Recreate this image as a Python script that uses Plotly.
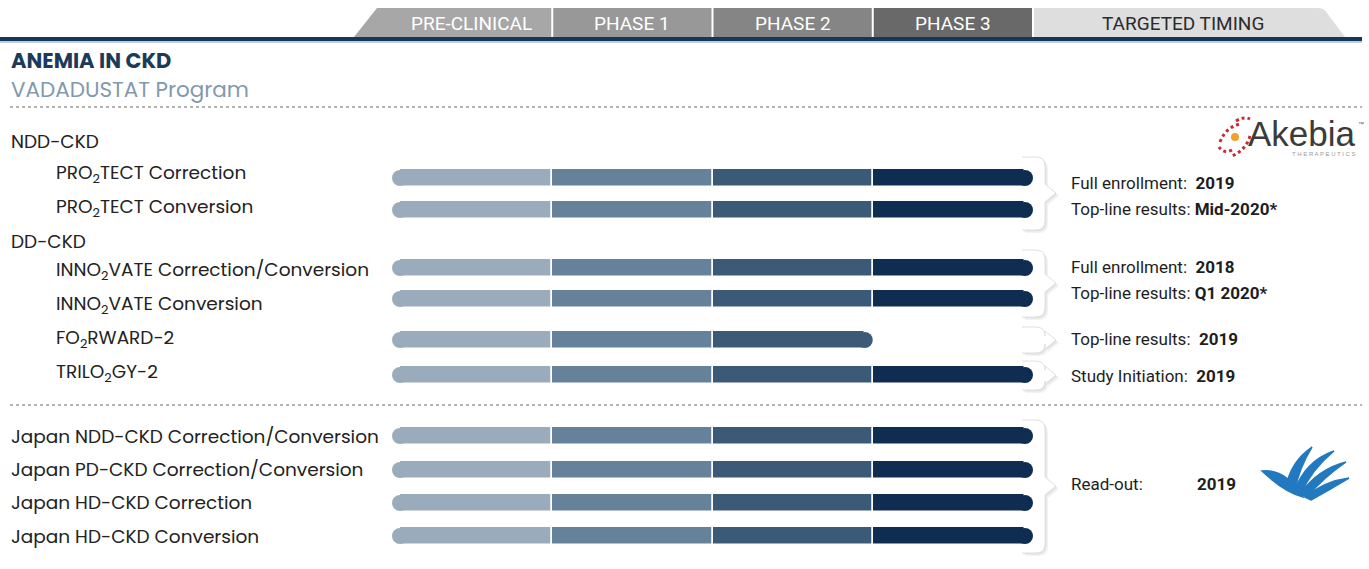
import plotly.graph_objects as go

# ---------------- data ----------------
phases = ["PRE-CLINICAL", "PHASE 1", "PHASE 2", "PHASE 3"]
header_extra = "TARGETED TIMING"
programs = [
    "PRO<sub>2</sub>TECT Correction",
    "PRO<sub>2</sub>TECT Conversion",
    "INNO<sub>2</sub>VATE Correction/Conversion",
    "INNO<sub>2</sub>VATE Conversion",
    "FO<sub>2</sub>RWARD-2",
    "TRILO<sub>2</sub>GY-2",
    "Japan NDD-CKD Correction/Conversion",
    "Japan PD-CKD Correction/Conversion",
    "Japan HD-CKD Correction",
    "Japan HD-CKD Conversion",
]
phases_reached = [4, 4, 4, 4, 3, 4, 4, 4, 4, 4]   # number of phase segments filled
groups = ["NDD-CKD", "DD-CKD"]
title = "ANEMIA IN CKD"
subtitle = "VADADUSTAT Program"
timing_notes = [
    ["Full enrollment:  <b>2019</b>", "Top-line results: <b>Mid-2020*</b>"],
    ["Full enrollment:  <b>2018</b>", "Top-line results: <b>Q1 2020*</b>"],
    ["Top-line results:  <b>2019</b>"],
    ["Study Initiation:  <b>2019</b>"],
]
readout_label = "Read-out:"
readout_value = "<b>2019</b>"

# ---------------- layout / style ----------------
W, H = 1369, 569
ROW_Y = [178, 210, 268, 299, 340, 375, 436, 470, 503, 536]
LABEL_Y = [174, 208, 271, 305, 339, 373, 436, 469, 502, 536]
INDENT = [True] * 6 + [False] * 4
GROUP_Y = [141, 241]
PH_COLORS = ["#9aacbc", "#66819a", "#3a5a77", "#0e2d50"]
TAB_COLORS = ["#a7a7a7", "#989898", "#858585", "#696969", "#dedede"]
X0_PX, PH_PX = 392.0, 160.25
BAR_H = 16
R = (BAR_H / 2) / PH_PX          # rounded end radius in phase units
LABEL_FONT = "Poppins, Open Sans, Lato, sans-serif"
NARROW = "Liberation Sans Narrow, Arial Narrow, Roboto, sans-serif"

fig = go.Figure()

# bars: one trace per phase
for p, ph in enumerate(phases):
    ys, bases, lens = [], [], []
    for i, n in enumerate(phases_reached):
        if n > p:
            b = p + (R if p == 0 else 0)
            e = p + 1 - (R if p == n - 1 else 0)
            ys.append(ROW_Y[i]); bases.append(b); lens.append(e - b)
    fig.add_trace(go.Bar(orientation="h", y=ys, x=lens, base=bases,
                         width=BAR_H + 1.5, name=ph,
                         marker=dict(color=PH_COLORS[p], line=dict(color="white", width=1.5)),
                         hoverinfo="skip", showlegend=False))

# rounded caps
fig.add_trace(go.Scatter(x=[R] * len(programs), y=ROW_Y, mode="markers",
                         marker=dict(size=BAR_H, color=PH_COLORS[0], line=dict(width=0)),
                         hoverinfo="skip", showlegend=False))
fig.add_trace(go.Scatter(x=[n - R for n in phases_reached], y=ROW_Y, mode="markers",
                         marker=dict(size=BAR_H, color=[PH_COLORS[n - 1] for n in phases_reached],
                                     line=dict(width=0)),
                         hoverinfo="skip", showlegend=False))

shapes = []
annos = []

def A(x, y, text, size=17, color="#222", font=LABEL_FONT, xanchor="left", **kw):
    annos.append(dict(x=x, y=y, xref="x2", yref="y", text=text, showarrow=False,
                      xanchor=xanchor, yanchor="middle",
                      font=dict(size=size, color=color, family=font), **kw))

# header tabs
tab_x = [X0_PX + k * PH_PX for k in range(5)]
top, bot = 8, 37
paths = [
    f"M 354,{bot} L 377,{top} L {tab_x[1]-1},{top} L {tab_x[1]-1},{bot} Z",
    f"M {tab_x[1]+1},{bot} L {tab_x[1]+1},{top} L {tab_x[2]-1},{top} L {tab_x[2]-1},{bot} Z",
    f"M {tab_x[2]+1},{bot} L {tab_x[2]+1},{top} L {tab_x[3]-1},{top} L {tab_x[3]-1},{bot} Z",
    f"M {tab_x[3]+1},{bot} L {tab_x[3]+1},{top} L {tab_x[4]-1},{top} L {tab_x[4]-1},{bot} Z",
    f"M {tab_x[4]+1},{bot} L {tab_x[4]+1},{top} L 1318,{top} Q 1324,{top} 1327,{top+5} L 1345,{bot} Z",
]
for k, pth in enumerate(paths):
    shapes.append(dict(type="path", path=pth, xref="x2", yref="y",
                       fillcolor=TAB_COLORS[k], line=dict(width=0), layer="below"))
tab_centers = [471, (tab_x[1] + tab_x[2]) / 2, (tab_x[2] + tab_x[3]) / 2, (tab_x[3] + tab_x[4]) / 2]
for k, ph in enumerate(phases):
    A(tab_centers[k], 23, ph, size=19, color="white", font=NARROW, xanchor="center")
A(1183, 23, header_extra, size=19, color="#2b2b2b", font=NARROW, xanchor="center")

# underline
shapes.append(dict(type="rect", x0=0, x1=1362, y0=37, y1=41, xref="x2", yref="y",
                   fillcolor="#173759", line=dict(width=0)))
shapes.append(dict(type="rect", x0=0, x1=1362, y0=41, y1=43, xref="x2", yref="y",
                   fillcolor="#b9cfe2", line=dict(width=0)))

# title
A(9, 60, f"<b>{title}</b>", size=21, color="#1c3b5b")
A(9, 89, subtitle, size=21.5, color="#8199ae")

# dotted separators
for yy in [107, 405]:
    shapes.append(dict(type="line", x0=10, x1=1362, y0=yy, y1=yy, xref="x2", yref="y",
                       line=dict(color="#b4b4b4", width=2, dash="dot")))

# group labels
for g, gy in zip(groups, GROUP_Y):
    A(9, gy, g, size=18.5)
# program labels
for lab, yy, ind in zip(programs, LABEL_Y, INDENT):
    A(54 if ind else 9, yy, lab, size=18.5)

# callout brackets
boxes = [(157, 230, 193), (250, 317, 283), (327, 353, 340), (361, 390, 375), (420, 553, 486)]
for (t, b, m) in boxes:
    Lx, Rx = 1022, 1045
    hw = min(9, (b - t) / 2 - 4)
    def bp(dx, dy, close=True):
        s = (f"M {Lx+dx},{t+dy} L {Rx-9+dx},{t+dy} Q {Rx+dx},{t+dy} {Rx+dx},{t+9+dy} "
             f"L {Rx+dx},{m-hw+dy} L {Rx+11+dx},{m+dy} L {Rx+dx},{m+hw+dy} "
             f"L {Rx+dx},{b-9+dy} Q {Rx+dx},{b+dy} {Rx-9+dx},{b+dy} L {Lx+dx},{b+dy}")
        return s + (" Z" if close else "")
    shapes.append(dict(type="path", path=bp(3, 3), xref="x2", yref="y",
                       fillcolor="rgba(0,0,0,0.05)", line=dict(width=0), layer="below"))
    shapes.append(dict(type="path", path=bp(1.5, 1.5), xref="x2", yref="y",
                       fillcolor="rgba(0,0,0,0.06)", line=dict(width=0), layer="below"))
    shapes.append(dict(type="path", path=bp(0, 0), xref="x2", yref="y",
                       fillcolor="white", line=dict(width=0), layer="below"))
    shapes.append(dict(type="path", path=bp(0, 0, close=False), xref="x2", yref="y",
                       line=dict(color="#e0e0e0", width=1), layer="below"))

# timing notes
note_y = [[183, 209], [267, 293], [339], [376]]
for lines, ys in zip(timing_notes, note_y):
    for txt, yy in zip(lines, ys):
        A(1069, yy, txt, size=17, color="#1e1e1e", font=NARROW)
A(1069, 484, readout_label, size=17, color="#1e1e1e", font=NARROW)
A(1195, 484, readout_value, size=17, color="#1e1e1e", font=NARROW)

# Akebia logo
A(1246, 133, "Akebia", size=35, color="#3b3b3b", font="Liberation Sans, Arial, sans-serif")
A(1356, 124, "™", size=6, color="#555", font="Liberation Sans, Arial")
A(1290, 154, "T H E R A P E U T I C S", size=6, color="#9a9a9a",
  font="Liberation Sans, Arial")
for pth in ["M 1220,142 Q 1226,127 1240,124", "M 1250,136 Q 1246,150 1232,156",
            "M 1236,121 Q 1244,116 1250,119", "M 1232,150 Q 1224,154 1219,147"]:
    shapes.append(dict(type="path", path=pth, xref="x2", yref="y",
                       line=dict(color="#c8282e", width=3, dash="dot")))
shapes.append(dict(type="circle", x0=1231, x1=1239, y0=133, y1=141, xref="x2", yref="y",
                   fillcolor="#f0a030", line=dict(width=0)))

# Japan partner logo (stylised bird)
blue = "#2379bf"
logo_paths = [
    "M 1262,471 Q 1285,468 1303,497 Q 1284,492 1262,471 Z",
    "M 1286,488 Q 1290,462 1312,447 Q 1299,468 1295,490 Z",
    "M 1294,492 Q 1305,461 1334,451 Q 1311,470 1301,494 Z",
    "M 1300,494 Q 1318,469 1346,462 Q 1323,478 1307,497 Z",
    "M 1305,497 Q 1325,481 1349,478 Q 1329,490 1311,500 Z",
]
for pth in logo_paths:
    shapes.append(dict(type="path", path=pth, xref="x2", yref="y",
                       fillcolor=blue, line=dict(color=blue, width=1.5)))

fig.update_layout(
    width=W, height=H, margin=dict(l=0, r=0, t=0, b=0),
    paper_bgcolor="white", plot_bgcolor="white",
    barmode="overlay", bargap=0,
    xaxis=dict(range=[-X0_PX / PH_PX, (W - X0_PX) / PH_PX], visible=False, fixedrange=True),
    xaxis2=dict(range=[0, W], overlaying="x", visible=False, fixedrange=True),
    yaxis=dict(range=[H, 0], visible=False, fixedrange=True),
    shapes=shapes, annotations=annos, showlegend=False,
)
fig.write_html("out.html", config={"displayModeBar": False},
               post_script="document.body.style.margin='0';document.body.style.overflow='hidden';")
